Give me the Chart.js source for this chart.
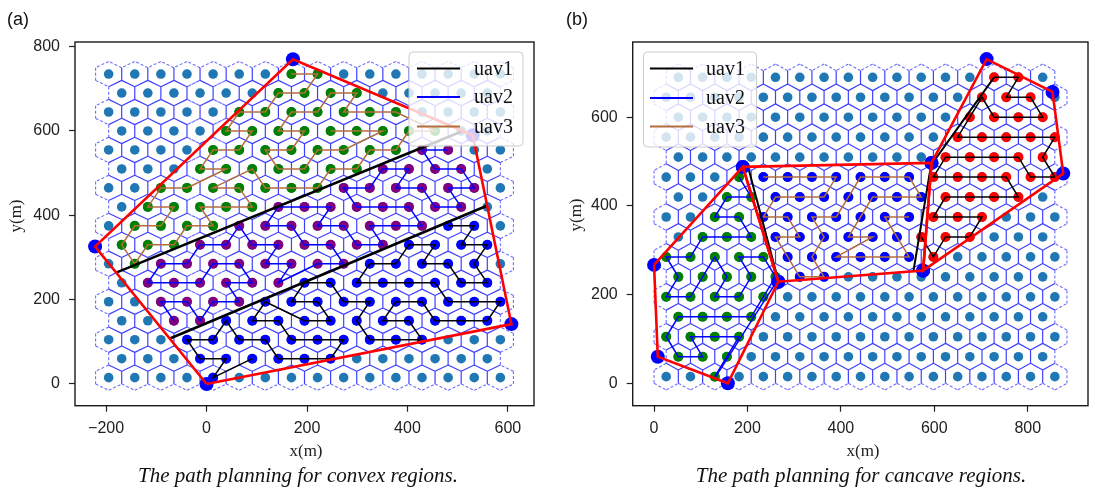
<!DOCTYPE html>
<html><head><meta charset="utf-8">
<script src="https://cdn.jsdelivr.net/npm/chart.js@4.4.1/dist/chart.umd.min.js"></script>
<style>
body{margin:0;width:1095px;height:493px;background:#fff;overflow:hidden;position:relative;font-family:'Liberation Sans',Arial,sans-serif}
canvas{position:absolute;top:0}
.lab{position:absolute;top:9px;font:18px 'Liberation Sans',Arial,sans-serif;color:#111}
.cap{position:absolute;top:463px;font:italic 21px 'Liberation Serif','Times New Roman',serif;white-space:nowrap;transform:translateX(-50%);color:#111}
.xt{position:absolute;top:441px;font:17px 'Liberation Serif',serif;transform:translateX(-50%);color:#222}
.yt{position:absolute;font:17px 'Liberation Serif',serif;transform:translate(-50%,-50%) rotate(-90deg);color:#222}
</style></head><body>
<canvas id="ca" width="545" height="460" style="left:0"></canvas>
<canvas id="cb" width="545" height="460" style="left:550px"></canvas>
<div class="lab" style="left:7px">(a)</div>
<div class="lab" style="left:566px">(b)</div>
<div class="xt" style="left:306px">x(m)</div>
<div class="xt" style="left:863px">x(m)</div>
<div class="yt" style="left:16px;top:216px">y(m)</div>
<div class="yt" style="left:576px;top:215px">y(m)</div>
<div class="cap" style="left:298px">The path planning for convex regions.</div>
<div class="cap" style="left:861px">The path planning for cancave regions.</div>
<script>
// ---------- tick labels ----------
const ticksXA = [-200, 0, 200, 400, 600];
const ticksYA = [0, 200, 400, 600, 800];
const ticksXB = [0, 200, 400, 600, 800];
const ticksYB = [0, 200, 400, 600];

// ---------- hexagonal cell grids (x of col 0 on even / odd rows, spacing, rows, cols) ----------
const gridA = {x0: -195, x1: -169, dx: 52, y0: 15, dy: 45, rows: 17, evenCols: 16, oddCols: 15};
const gridB = {x0: 26, x1: 52, dx: 52, y0: 15, dy: 45, rows: 16, evenCols: 17, oddCols: 16};

// ---------- cells assigned to each UAV: [row, firstCol, lastCol] ----------
const cellsA_uav1 = [[0,4,4],[1,3,8],[2,3,12],[3,4,14],[4,6,15],[5,7,14],[6,10,14],[7,11,14],[8,13,14]];
const cellsA_uav2 = [[3,2,3],[4,2,5],[5,1,6],[6,2,9],[7,3,10],[8,5,12],[9,6,13],[10,9,14],[11,10,13],[12,12,13]];
const cellsA_uav3 = [[6,1,1],[7,0,2],[8,1,4],[9,1,5],[10,2,8],[11,3,9],[12,4,11],[13,4,12],[14,5,11],[15,6,9],[16,7,8]];
const cellsB_uav1 = [[6,11,11],[7,10,12],[8,11,13],[9,11,14],[10,11,16],[11,11,15],[12,12,16],[13,12,15],[14,13,15],[15,13,14]];
const cellsB_uav2 = [[0,2,2],[1,0,2],[2,0,3],[3,0,3],[4,0,4],[5,0,4],[6,0,4],[7,1,3],[8,2,3],[9,2,3],[10,3,3]];
const cellsB_uav3 = [[5,5,6],[6,5,10],[7,4,9],[8,4,10],[9,4,10],[10,4,10]];

// ---------- coverage paths: [row, col] ----------
const pathA_uav1 = [[8,13],[8,14],[7,13],[7,14],[6,14],[5,14],[5,13],[6,13],[6,12],[7,12],[7,11],[6,11],[6,10],[5,9],[5,10],[5,11],[5,12],[4,13],[4,14],[4,15],[3,14],[3,13],[3,12],[4,12],[4,11],[3,10],[3,11],[2,12],[2,11],[2,10],[3,9],[4,10],[4,9],[5,8],[5,7],[4,7],[4,8],[3,8],[3,7],[4,6],[3,5],[3,6],[2,7],[2,8],[2,9],[1,8],[1,7],[1,6],[2,6],[2,5],[3,4],[2,4],[2,3],[1,3],[1,4],[0,4],[1,5]];
const pathA_uav2 = [[12,13],[12,12],[11,12],[11,13],[10,14],[10,13],[9,13],[9,12],[10,12],[10,11],[11,11],[11,10],[10,10],[10,9],[9,9],[9,10],[9,11],[8,12],[8,11],[8,10],[7,10],[7,9],[8,9],[8,8],[9,8],[9,7],[9,6],[8,6],[8,7],[7,7],[7,8],[6,9],[6,8],[5,6],[6,7],[6,6],[7,6],[7,5],[8,5],[7,4],[7,3],[6,3],[6,2],[5,1],[5,2],[5,3],[6,4],[6,5],[5,5],[5,4],[4,5],[4,4],[3,3],[4,3],[4,2],[3,2]];
const pathA_uav3 = [[16,7],[16,8],[15,7],[15,6],[14,6],[14,5],[13,4],[13,5],[12,5],[12,4],[11,3],[11,4],[10,3],[10,2],[9,1],[9,2],[8,2],[8,1],[7,0],[6,1],[7,1],[7,2],[8,3],[8,4],[9,3],[9,4],[9,5],[10,5],[10,4],[11,5],[10,6],[10,7],[10,8],[11,8],[11,9],[12,10],[12,11],[13,11],[13,12],[14,11],[14,10],[14,9],[15,9],[15,8],[14,8],[14,7],[13,6],[13,7],[12,7],[12,6],[11,6],[11,7],[12,8],[12,9],[13,10],[13,9],[13,8]];
const pathB_uav1 = [[15,13],[15,14],[14,14],[14,15],[13,15],[13,14],[13,13],[14,13],[13,12],[12,12],[12,13],[12,14],[12,15],[12,16],[11,15],[10,16],[10,15],[11,14],[11,13],[11,12],[11,11],[10,11],[10,12],[10,13],[10,14],[9,14],[9,13],[9,12],[9,11],[8,11],[8,12],[8,13],[7,12],[7,11],[6,11],[7,10]];
const pathB_uav2 = [[10,3],[9,3],[9,2],[8,2],[8,3],[7,3],[7,2],[7,1],[6,1],[6,0],[5,0],[4,0],[4,1],[5,1],[6,2],[5,2],[4,2],[4,3],[5,3],[6,3],[6,4],[5,4],[4,4],[3,3],[3,2],[3,1],[3,0],[2,0],[1,0],[1,1],[2,1],[2,2],[2,3],[1,2],[0,2]];
const pathB_uav3 = [[10,4],[10,5],[10,6],[10,7],[9,6],[9,5],[9,4],[8,4],[8,5],[7,5],[7,4],[6,5],[5,5],[5,6],[6,6],[7,6],[8,6],[8,7],[9,7],[10,8],[10,9],[10,10],[9,10],[9,9],[9,8],[8,8],[7,7],[7,8],[6,7],[6,8],[6,9],[6,10],[7,9],[8,9],[8,10]];

// ---------- region boundaries and transfer lines (data units) ----------
const polyA = [[0,0],[-222,326],[172,770],[530,590],[607,142]];
const polyB_left = [[0,267],[8,60],[158,0],[266,229],[190,488]];
const polyB_mid = [[190,488],[594,497],[576,254],[266,229]];
const polyB_right = [[594,497],[712,731],[853,657],[876,473],[576,254]];
const transitA_uav1 = [[[-180,264],[510,600]], [[-73,108],[557,422]]];
const transitB_uav1 = [[[202,485],[266,232]], [[728,690],[593,492],[555,251]]];
const transitB_uav2 = [[[132,15],[264,232]]];

const legendLabels = ['uav1', 'uav2', 'uav3'];
const COL = {teal:'#1f77b4', green:'#008000', purple:'#800080', blue:'#0000ff', red:'#ff0000',
             uav1:'#000000', uav2:'#0000ff', uav3:'#b46e3c', hex:'rgba(30,30,255,0.85)', hexDash:'rgba(30,30,255,0.65)'};

// ---------- helpers ----------
function cellXY(g, r, c) { return {x: (r % 2 === 0 ? g.x0 : g.x1) + g.dx * c, y: g.y0 + g.dy * r}; }
function allCells(g) {
  const out = [];
  for (let r = 0; r < g.rows; r++) {
    const n = r % 2 === 0 ? g.evenCols : g.oddCols;
    for (let c = 0; c < n; c++) out.push(cellXY(g, r, c));
  }
  return out;
}
function rangeCells(g, ranges) {
  const out = [];
  ranges.forEach(([r, a, b]) => { for (let c = a; c <= b; c++) out.push(cellXY(g, r, c)); });
  return out;
}
function hexEdges(g) {
  const R = g.dx / Math.sqrt(3);
  const map = new Map();
  allCells(g).forEach(p => {
    const v = [];
    for (let k = 0; k < 6; k++) {
      const a = (30 + 60 * k) * Math.PI / 180;
      v.push({x: p.x + R * Math.cos(a), y: p.y + R * Math.sin(a)});
    }
    for (let k = 0; k < 6; k++) {
      const a = v[k], b = v[(k + 1) % 6];
      const key = Math.round((a.x + b.x) / 8) + ',' + Math.round((a.y + b.y) / 8);
      if (map.has(key)) map.get(key).n++; else map.set(key, {a, b, n: 1});
    }
  });
  const solid = [], dashed = [];
  map.forEach(e => {
    const t = e.n > 1 ? solid : dashed;
    t.push({x: e.a.x, y: e.a.y}, {x: e.b.x, y: e.b.y}, {x: e.b.x, y: null});
  });
  return {solid, dashed};
}
function pathPts(g, path) { return path.map(([r, c]) => cellXY(g, r, c)); }
function polyPts(poly) { return poly.concat([poly[0]]).map(([x, y]) => ({x, y})); }
function segPts(segs) {
  const out = [];
  segs.forEach(s => { s.forEach(([x, y]) => out.push({x, y})); out.push({x: s[s.length-1][0], y: null}); });
  return out;
}
function lineDS(data, color, width, order, dash) {
  return {data, borderColor: color, borderWidth: width, pointRadius: 0, showLine: true, fill: false,
          spanGaps: false, order, borderDash: dash || [], borderCapStyle: 'butt', borderJoinStyle: 'miter'};
}
function dotDS(data, color, radius, order) {
  return {data, showLine: false, pointRadius: radius, pointBackgroundColor: color, pointBorderWidth: 0,
          pointBorderColor: color, order};
}

// ---------- plugins ----------
const framePlugin = {
  id: 'frame',
  afterDraw(chart) {
    const a = chart.chartArea, ctx = chart.ctx;
    ctx.save(); ctx.strokeStyle = '#1a1a1a'; ctx.lineWidth = 1.4;
    ctx.strokeRect(a.left, a.top, a.right - a.left, a.bottom - a.top);
    ctx.restore();
  }
};
const legendPlugin = {
  id: 'boxLegend',
  afterDraw(chart, args, o) {
    const ctx = chart.ctx;
    ctx.save();
    ctx.beginPath();
    ctx.roundRect(o.x, o.y, o.w, o.h, 4);
    ctx.fillStyle = 'rgba(255,255,255,0.8)'; ctx.fill();
    ctx.strokeStyle = 'rgba(200,200,200,0.9)'; ctx.lineWidth = 1; ctx.stroke();
    o.items.forEach((it, i) => {
      const y = o.rows[i];
      ctx.beginPath(); ctx.moveTo(o.lx0, y); ctx.lineTo(o.lx1, y);
      ctx.strokeStyle = it.color; ctx.lineWidth = 1.8; ctx.stroke();
      ctx.fillStyle = '#111'; ctx.font = "20px 'Liberation Serif', serif";
      ctx.textBaseline = 'middle'; ctx.textAlign = 'left';
      ctx.fillText(it.label, o.tx, y + 1);
    });
    ctx.restore();
  }
};

function axis(min, max, tickVals, fitKey, fitVal, pad) {
  return {
    type: 'linear', min, max,
    afterBuildTicks: s => { s.ticks = tickVals.map(v => ({value: v})); },
    afterFit: s => { s[fitKey] = fitVal; },
    ticks: {autoSkip: false, maxRotation: 0, padding: pad, color: '#222',
            font: {family: "'Liberation Sans', Arial, sans-serif", size: 16},
            callback: v => String(v).replace('-', '\u2212')},
    grid: {drawOnChartArea: false, drawTicks: true, tickLength: 6, tickColor: '#222', tickWidth: 1.2, color: '#222'},
    border: {display: false}
  };
}

function makeChart(id, cfg) {
  new Chart(document.getElementById(id), {
    type: 'line',
    data: {datasets: cfg.datasets},
    options: {
      responsive: false, animation: false, devicePixelRatio: 1, events: [],
      layout: {padding: cfg.padding},
      plugins: {legend: {display: false}, tooltip: {enabled: false}, boxLegend: cfg.legend},
      scales: {
        x: axis(cfg.xr[0], cfg.xr[1], cfg.xTicks, 'height', cfg.xH, 7),
        y: axis(cfg.yr[0], cfg.yr[1], cfg.yTicks, 'width', cfg.yW, 9)
      }
    },
    plugins: [framePlugin, legendPlugin]
  });
}

function buildDatasets(g, groups, polys, transits) {
  const h = hexEdges(g);
  const ds = [
    lineDS(h.solid, COL.hex, 1.2, 20),
    lineDS(h.dashed, COL.hexDash, 1.1, 20, [3, 2]),
    dotDS(allCells(g), COL.teal, 4.8, 19)
  ];
  groups.forEach(gr => ds.push(dotDS(rangeCells(g, gr.cells), gr.dot, 5, 18)));
  groups.forEach(gr => ds.push(lineDS(pathPts(g, gr.path), gr.line, 1.5, 17)));
  transits.forEach(t => ds.push(lineDS(segPts(t.segs), t.color, t.width, 16)));
  const verts = [];
  polys.forEach(p => p.forEach(([x, y]) => verts.push({x, y})));
  ds.push(dotDS(verts, COL.blue, 7, 15));
  polys.forEach(p => ds.push(lineDS(polyPts(p), COL.red, 2.6, 14)));
  return ds;
}

const legendItems = legendLabels.map((l, i) => ({label: l, color: [COL.uav1, COL.uav2, COL.uav3][i]}));

makeChart('ca', {
  xr: [-262, 652], yr: [-51.5, 811], xTicks: ticksXA, yTicks: ticksYA,
  xH: 54.3, yW: 75, padding: {left: 0, right: 11, top: 42, bottom: 0},
  legend: {x: 409, y: 52, w: 114, h: 94, lx0: 417, lx1: 460, tx: 474, rows: [68.5, 97, 126.5], items: legendItems},
  datasets: buildDatasets(gridA, [
    {cells: cellsA_uav1, dot: COL.blue, path: pathA_uav1, line: COL.uav1},
    {cells: cellsA_uav2, dot: COL.purple, path: pathA_uav2, line: COL.uav2},
    {cells: cellsA_uav3, dot: COL.green, path: pathA_uav3, line: COL.uav3}
  ], [polyA], [{segs: transitA_uav1, color: COL.uav1, width: 2.6}])
});

makeChart('cb', {
  xr: [-45.7, 929], yr: [-50.5, 769.6], xTicks: ticksXB, yTicks: ticksYB,
  xH: 54.3, yW: 82.7, padding: {left: 0, right: 1.7, top: 42, bottom: 0},
  legend: {x: 93.5, y: 52, w: 113, h: 95, lx0: 100, lx1: 143, tx: 156, rows: [68.5, 98, 126.5], items: legendItems},
  datasets: buildDatasets(gridB, [
    {cells: cellsB_uav1, dot: COL.red, path: pathB_uav1, line: COL.uav1},
    {cells: cellsB_uav2, dot: COL.green, path: pathB_uav2, line: COL.uav2},
    {cells: cellsB_uav3, dot: COL.blue, path: pathB_uav3, line: COL.uav3}
  ], [polyB_left, polyB_mid, polyB_right], [
    {segs: transitB_uav1, color: COL.uav1, width: 2},
    {segs: transitB_uav2, color: COL.uav2, width: 1.5}
  ])
});
</script>
</body></html>
